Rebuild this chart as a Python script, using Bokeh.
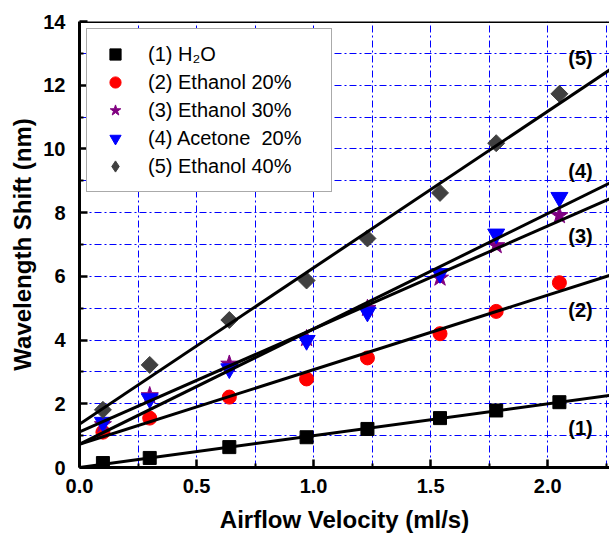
from bokeh.plotting import figure
from bokeh.models import (FixedTicker, Span, Slope, Legend, LegendItem, Range1d,
                          ColumnDataSource, NumeralTickFormatter)
from bokeh.embed import file_html
from bokeh.resources import INLINE
from bokeh.core.properties import value
import math

# ---- data ----
velocity = [0.10, 0.30, 0.64, 0.97, 1.23, 1.54, 1.78, 2.05]
h2o      = [0.14, 0.30, 0.64, 0.95, 1.21, 1.55, 1.79, 2.05]
eth20    = [1.11, 1.55, 2.21, 2.78, 3.44, 4.20, 4.90, 5.80]
eth30    = [1.35, 2.26, 3.25, 4.05, 5.00, 5.95, 6.97, 7.91]
acet20   = [1.42, 2.16, 3.10, 3.99, 4.88, 6.09, 7.33, 8.48]
eth40    = [1.81, 3.22, 4.63, 5.87, 7.19, 8.62, 10.18, 11.73]

series_names = ["(1) H\u2082O", "(2) Ethanol 20%", "(3) Ethanol 30%",
                "(4) Acetone  20%", "(5) Ethanol 40%"]
series_values = [h2o, eth20, eth30, acet20, eth40]

# linear fit lines (intercept, slope)
fit_intercepts = [0.00, 0.73, 1.12, 0.73, 1.36]
fit_slopes     = [1.00, 2.34, 3.23, 3.62, 4.91]

curve_tags = ["(1)", "(2)", "(3)", "(4)", "(5)"]
tag_x = [2.14, 2.14, 2.14, 2.14, 2.14]
tag_y = [1.24, 4.93, 7.28, 9.32, 12.85]

x_major = [0.0, 0.5, 1.0, 1.5, 2.0]
x_minor = [0.25, 0.75, 1.25, 1.75, 2.25]
y_major = [0, 2, 4, 6, 8, 10, 12, 14]
y_minor = [1, 3, 5, 7, 9, 11, 13]
x_grid = [0.25, 0.5, 0.75, 1.0, 1.25, 1.5, 1.75, 2.0, 2.25]
y_grid = [1, 2, 3, 4, 5, 6, 7, 8, 9, 10, 11, 12, 13]

FONT = "Liberation Sans"

p = figure(width=609, height=537, output_backend="svg", toolbar_location=None,
           x_range=Range1d(0, 2.264), y_range=Range1d(0, 14),
           min_border_left=79, min_border_right=0, min_border_top=21,
           min_border_bottom=70, outline_line_color=None,
           background_fill_color="white", border_fill_color="white")

# grid
p.xgrid.ticker = FixedTicker(ticks=x_grid)
p.ygrid.ticker = FixedTicker(ticks=y_grid)
for g in (p.xgrid, p.ygrid):
    g.grid_line_color = "#0000ff"
    g.grid_line_width = 1
    g.grid_line_dash = "7 3 2 3"

# axes
p.xaxis.ticker = FixedTicker(ticks=x_major, minor_ticks=x_minor)
p.yaxis.ticker = FixedTicker(ticks=y_major, minor_ticks=y_minor)
p.xaxis.formatter = NumeralTickFormatter(format="0.0")
p.yaxis.formatter = NumeralTickFormatter(format="0")
for ax in (p.xaxis, p.yaxis):
    ax.axis_line_width = 3
    ax.axis_line_color = "black"
    ax.major_tick_in = 8
    ax.major_tick_out = 0
    ax.minor_tick_in = 4
    ax.minor_tick_out = 0
    ax.major_tick_line_width = 2.5
    ax.minor_tick_line_width = 2
    ax.major_label_text_font = FONT
    ax.major_label_text_font_style = "bold"
    ax.major_label_text_font_size = "20px"
    ax.major_label_text_color = "black"
    ax.axis_label_text_font = FONT
    ax.axis_label_text_font_style = "bold"
    ax.axis_label_text_font_size = "24px"
    ax.axis_label_text_color = "black"
p.xaxis.axis_label = "Airflow Velocity (ml/s)"
p.yaxis.axis_label = "Wavelength Shift (nm)"
p.xaxis.major_label_standoff = 11
p.yaxis.major_label_standoff = 14
p.xaxis.axis_label_standoff = 10
p.yaxis.axis_label_standoff = 4

# top border
p.add_layout(Span(location=14, dimension="width", line_color="black", line_width=3))

# scatter series
styles = [
    dict(marker="square", size=13, fill_color="black", line_color="black", angle=0.0),
    dict(marker="circle", size=14, fill_color="#ff0000", line_color="#ff0000", angle=0.0),
    dict(marker="star", size=18, fill_color="#800080", line_color="#800080", angle=0.0),
    dict(marker="inverted_triangle", size=17, fill_color="#0000ff", line_color="#0000ff", angle=0.0),
    dict(marker="square", size=12, fill_color="#404040", line_color="#404040", angle=math.pi / 4),
]
legend_markers = ["square", "circle", "star", "inverted_triangle", "diamond"]

items = []
for name, vals, st, lm in zip(series_names, series_values, styles, legend_markers):
    src = ColumnDataSource(dict(x=velocity, y=vals))
    r = p.scatter("x", "y", source=src, **st)
    if lm == st["marker"]:
        items.append(LegendItem(label=name, renderers=[r]))
    else:
        # legend-only proxy (legend glyphs ignore marker angle); NaN y so it draws nothing
        proxy_src = ColumnDataSource(dict(x=velocity[:1], y=[float("nan")]))
        proxy = p.scatter("x", "y", source=proxy_src, marker=lm,
                          fill_color=st["fill_color"], line_color=st["line_color"],
                          size=st["size"])
        items.append(LegendItem(label=name, renderers=[proxy]))

# fit lines
for b, m in zip(fit_intercepts, fit_slopes):
    p.add_layout(Slope(gradient=m, y_intercept=b, line_color="black", line_width=3))

# curve tags
p.text(x=tag_x, y=tag_y, text=curve_tags, text_font=value(FONT),
       text_font_style="bold", text_font_size="20px", text_align="center",
       text_baseline="middle", text_color="black")

legend = Legend(items=items, location="top_left", margin=7, padding=11,
                spacing=0, glyph_width=34, glyph_height=28, label_height=27,
                label_width=172, label_standoff=16,
                label_text_font=FONT, label_text_font_size="20px",
                label_text_color="black",
                border_line_color="#555555", border_line_width=1.5,
                background_fill_color="white", background_fill_alpha=1.0)
p.add_layout(legend)

open("out.html", "w").write(file_html(p, INLINE))
